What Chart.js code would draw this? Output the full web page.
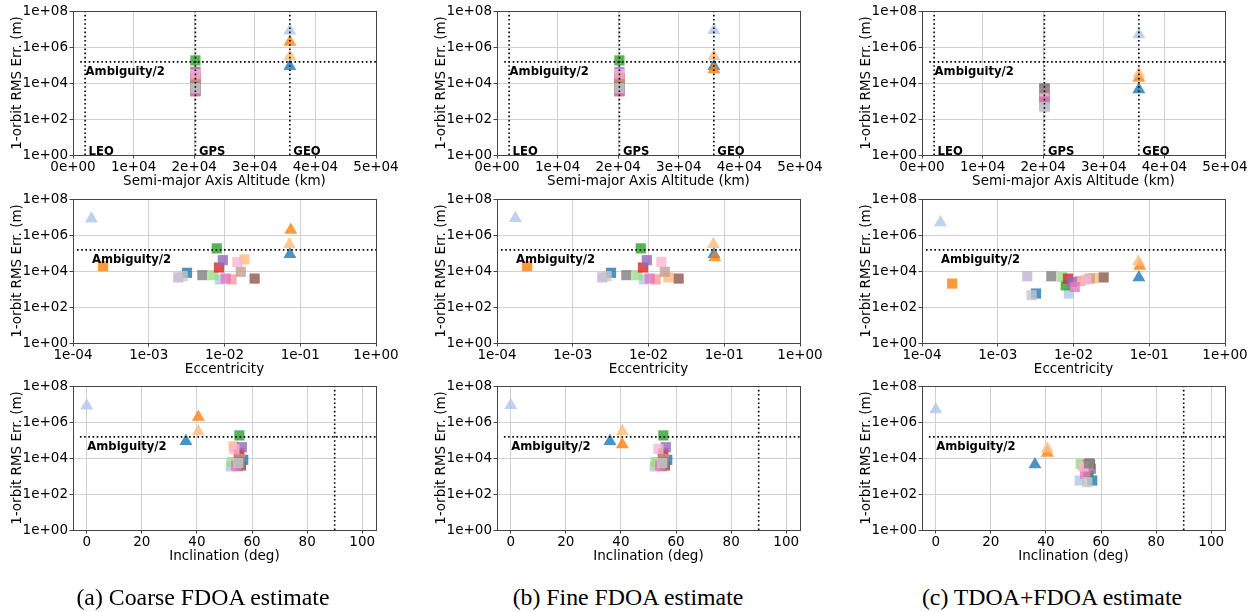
<!DOCTYPE html>
<html>
<head>
<meta charset="utf-8">
<script src="https://cdn.jsdelivr.net/npm/chart.js@4.4.1/dist/chart.umd.min.js"></script>
<style>
  body { margin: 0; background: #fff; width: 1253px; height: 612px; overflow: hidden; position: relative; }
  canvas { position: absolute; }
  .cap { position: absolute; top: 585px; width: 400px; text-align: center; font-family: "Liberation Serif", serif; font-size: 23.8px; line-height: 24px; color: #000; white-space: nowrap; }
</style>
</head>
<body>
<canvas id="a1" width="404" height="190" style="left:0px;top:0px"></canvas>
<canvas id="a2" width="404" height="190" style="left:0px;top:188px"></canvas>
<canvas id="a3" width="404" height="190" style="left:0px;top:375px"></canvas>
<canvas id="b1" width="404" height="190" style="left:424px;top:0px"></canvas>
<canvas id="b2" width="404" height="190" style="left:424px;top:188px"></canvas>
<canvas id="b3" width="404" height="190" style="left:424px;top:375px"></canvas>
<canvas id="c1" width="404" height="190" style="left:849px;top:0px"></canvas>
<canvas id="c2" width="404" height="190" style="left:849px;top:188px"></canvas>
<canvas id="c3" width="404" height="190" style="left:849px;top:375px"></canvas>
<div class="cap" style="left:3px">(a) Coarse FDOA estimate</div>
<div class="cap" style="left:428px">(b) Fine FDOA estimate</div>
<div class="cap" style="left:852px">(c) TDOA+FDOA estimate</div>

<script>
// tab20 colours, one per satellite
const tab20 = ['#1f77b4', '#aec7e8', '#ff7f0e', '#ffbb78', '#2ca02c', '#98df8a', '#d62728', '#ff9896',
               '#9467bd', '#c5b0d5', '#8c564b', '#c49c94', '#e377c2', '#f7b6d2', '#7f7f7f', '#c7c7c7'];

// GPS satellites (squares)
const gpsAlt = 20200;
const gpsEcc = [3.2e-3, 8.7e-3, 2.5e-4, 1.83e-2, 7.9e-3, 7.1e-3, 8.45e-3, 1.24e-2,
                9.5e-3, 2.45e-3, 2.5e-2, 1.64e-2, 1.04e-2, 1.48e-2, 5.1e-3, 2.8e-3];
const gpsInc = [56.8, 52.3, 55.5, 53.3, 55.4, 52.6, 55.2, 54.8,
                56.3, 55.8, 56.0, 55.5, 54.2, 53.6, 55.6, 55.0];
const gpsErrCoarse = [7.9e3, 3.4e3, 1.86e4, 4.4e4, 1.8e5, 5.9e3, 1.56e4, 3.4e3,
                      4.0e4, 4.4e3, 3.8e3, 9.0e3, 3.8e3, 3.1e4, 5.9e3, 5.2e3];
const gpsErrFine = [7.9e3, 3.4e3, 1.86e4, 4.4e3, 1.8e5, 5.9e3, 1.56e4, 3.4e3,
                    4.0e4, 4.4e3, 3.8e3, 9.0e3, 3.8e3, 3.2e4, 5.9e3, 5.2e3];
const gpsErrJoint = [5.6e2, 5.6e2, 2.0e3, 4.0e3, 1.6e3, 4.7e3, 3.8e3, 2.8e3,
                     2.5e3, 5.1e3, 4.4e3, 3.8e3, 1.3e3, 3.4e3, 5.1e3, 4.5e2];

// GEO satellites (triangles)
const geoAlt = 35786;
const geoEcc = [0.073, 1.75e-4, 0.075, 0.072];
const geoInc = [36, 0, 40.5, 40.5];
const geoErrCoarse = [8.5e4, 8.0e6, 1.9e6, 3.0e5];
const geoErrFine = [8.5e4, 8.4e6, 5.6e4, 3.1e5];
const geoErrJoint = [4.4e3, 5.0e6, 1.9e4, 3.3e4];

// reference lines
const ambiguityHalf = 1.5e5;
const orbitAlts = [2000, 20200, 35786];
const orbitNames = ['LEO', 'GPS', 'GEO'];
const incLimit = 90;

// ticks
const yTicks = [1, 1e2, 1e4, 1e6, 1e8];
const altTicks = [0, 1e4, 2e4, 3e4, 4e4, 5e4];
const eccTicks = [1e-4, 1e-3, 1e-2, 1e-1, 1];
const incTicks = [0, 20, 40, 60, 80, 100];

Chart.defaults.font.family = '"DejaVu Sans", sans-serif';
Chart.defaults.font.size = 13.5;
Chart.defaults.color = '#000';

function rgba(hex, a) {
  let n = parseInt(hex.slice(1), 16);
  return `rgba(${n >> 16},${(n >> 8) & 255},${n & 255},${a})`;
}

function expLabel(v) {
  let e = Math.round(Math.log10(v));
  return '1e' + (e < 0 ? '-' : '+') + String(Math.abs(e)).padStart(2, '0');
}

const kinds = {
  alt: {
    type: 'linear', min: 0, max: 5e4, ticks: altTicks, title: 'Semi-major Axis Altitude (km)',
    fmt: v => (v === 0 ? '0' : String(Math.round(v / 1e4))) + 'e+' + (v === 0 ? '00' : '04'),
    gpsX: () => gpsEcc.map(() => gpsAlt), geoX: () => geoEcc.map(() => geoAlt),
    hStart: 1200, textX: orbitAlts[0]
  },
  ecc: {
    type: 'logarithmic', min: 1e-4, max: 1, ticks: eccTicks, title: 'Eccentricity',
    fmt: expLabel, gpsX: () => gpsEcc, geoX: () => geoEcc,
    hStart: 1.13e-4, textX: geoEcc[1]
  },
  inc: {
    type: 'linear', min: -5, max: 105, ticks: incTicks, title: 'Inclination (deg)',
    fmt: v => String(v), gpsX: () => gpsInc, geoX: () => geoInc,
    hStart: -2.5, textX: 0
  }
};

function refLine(points) {
  return {
    data: points, showLine: true, borderColor: '#000', borderWidth: 1.6,
    borderDash: [1.6, 2.6], pointRadius: 0, fill: false
  };
}

const refLabels = {
  id: 'refLabels',
  afterDatasetsDraw(chart, args, opts) {
    const { ctx, chartArea: a, scales } = chart;
    ctx.save();
    ctx.fillStyle = '#000';
    ctx.font = 'bold 11.6px "DejaVu Sans"';
    ctx.textBaseline = 'alphabetic';
    ctx.textAlign = 'left';
    opts.items.forEach(it => {
      let px = scales.x.getPixelForValue(it.x) + it.dx;
      let py = scales.y.getPixelForValue(it.y) + it.dy;
      ctx.fillText(it.text, px, py);
    });
    ctx.strokeStyle = '#444';
    ctx.lineWidth = 1;
    ctx.strokeRect(a.left + 0.5, a.top + 0.5, a.right - a.left, a.bottom - a.top);
    ctx.restore();
  }
};

function makeChart(id, kindName, gpsErr, geoErr) {
  const k = kinds[kindName];
  let gx = k.gpsX(), tx = k.geoX();
  let datasets = [];
  let labels = [];

  // dotted reference lines
  datasets.push(refLine([{ x: k.hStart, y: ambiguityHalf }, { x: k.max, y: ambiguityHalf }]));
  labels.push({ x: k.textX, y: ambiguityHalf, text: 'Ambiguity/2', dx: 0.5, dy: 13 });
  if (kindName === 'alt') {
    orbitAlts.forEach((v, i) => {
      datasets.push(refLine([{ x: v, y: 1 }, { x: v, y: 1e8 }]));
      labels.push({ x: v, y: 1, text: orbitNames[i], dx: 3.5, dy: -0.5 });
    });
  }
  if (kindName === 'inc') {
    datasets.push(refLine([{ x: incLimit, y: 1 }, { x: incLimit, y: 1e8 }]));
  }

  datasets.push({
    data: geoErr.map((v, i) => ({ x: tx[i], y: v })),
    pointStyle: 'triangle', pointRadius: 7.5, pointBorderWidth: 0,
    pointBackgroundColor: geoErr.map((v, i) => rgba(tab20[i], 0.8))
  });
  datasets.push({
    data: gpsErr.map((v, i) => ({ x: gx[i], y: v })),
    pointStyle: 'rect', pointRadius: 7.2, pointBorderWidth: 0,
    pointBackgroundColor: gpsErr.map((v, i) => rgba(tab20[i], 0.8))
  });

  new Chart(document.getElementById(id), {
    type: 'scatter',
    data: { datasets: datasets },
    options: {
      responsive: false,
      animation: false,
      events: [],
      layout: { padding: { top: 11, right: 28, left: 0, bottom: 0 } },
      plugins: {
        legend: { display: false },
        tooltip: { enabled: false },
        refLabels: { items: labels }
      },
      scales: {
        x: {
          type: k.type, min: k.min, max: k.max,
          afterBuildTicks: s => { s.ticks = k.ticks.map(v => ({ value: v })); },
          afterFit: s => { s.height = 35; },
          ticks: { callback: v => k.fmt(v), autoSkip: false, maxRotation: 0, padding: 0.5 },
          grid: { color: '#d0d0d0', tickColor: '#444', tickLength: 3.5 },
          border: { display: false },
          title: { display: true, text: k.title, padding: { top: 0, bottom: 0.5 } }
        },
        y: {
          type: 'logarithmic', min: 1, max: 1e8,
          afterBuildTicks: s => { s.ticks = yTicks.map(v => ({ value: v })); },
          afterFit: s => { s.width = 73; },
          ticks: { callback: v => expLabel(v), autoSkip: false, padding: 1.5 },
          grid: { color: '#d0d0d0', tickColor: '#444', tickLength: 3.5 },
          border: { display: false },
          title: { display: true, text: '1-orbit RMS Err. (m)', padding: { top: 9, bottom: 0 } }
        }
      }
    },
    plugins: [refLabels]
  });
}

makeChart('a1', 'alt', gpsErrCoarse, geoErrCoarse);
makeChart('a2', 'ecc', gpsErrCoarse, geoErrCoarse);
makeChart('a3', 'inc', gpsErrCoarse, geoErrCoarse);
makeChart('b1', 'alt', gpsErrFine, geoErrFine);
makeChart('b2', 'ecc', gpsErrFine, geoErrFine);
makeChart('b3', 'inc', gpsErrFine, geoErrFine);
makeChart('c1', 'alt', gpsErrJoint, geoErrJoint);
makeChart('c2', 'ecc', gpsErrJoint, geoErrJoint);
makeChart('c3', 'inc', gpsErrJoint, geoErrJoint);
</script>
</body>
</html>
